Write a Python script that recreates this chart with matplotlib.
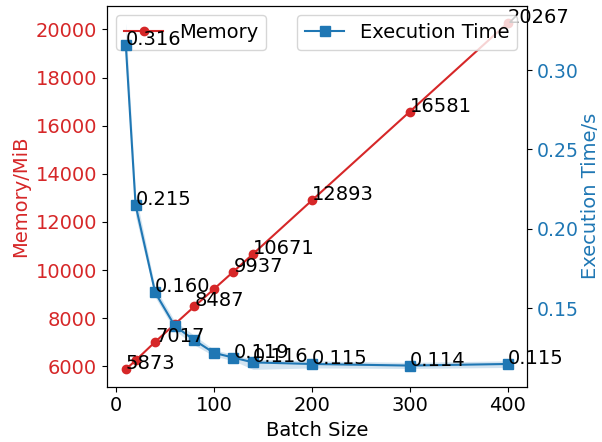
import matplotlib
matplotlib.use("Agg")
import matplotlib.pyplot as plt

batch_sizes = [10, 20, 40, 60, 80, 100, 120, 140, 200, 300, 400]
memory_mib = [5873, 6245, 7017, 7750, 8487, 9210, 9937, 10671, 12893, 16581, 20267]
exec_time = [0.316, 0.215, 0.160, 0.139, 0.130, 0.122, 0.119, 0.116, 0.115, 0.114, 0.115]
exec_time_lo = [0.303, 0.208, 0.157, 0.136, 0.127, 0.120, 0.117, 0.1116, 0.1125, 0.1122, 0.1128]
exec_time_hi = [0.3296, 0.222, 0.163, 0.142, 0.133, 0.124, 0.121, 0.118, 0.117, 0.116, 0.117]

mem_label_x = [10, 40, 80, 120, 140, 200, 300, 400]
time_label_x = [10, 20, 40, 120, 140, 200, 300, 400]

plt.rcParams['font.size'] = 14
red = '#d62728'
blue = '#1f77b4'

fig = plt.figure(figsize=(6.02, 4.42), dpi=100)
ax1 = fig.add_axes([106.7 / 602, (442 - 386.7) / 442, 420 / 602, 381 / 442])
ax1.plot(batch_sizes, memory_mib, color=red, marker='o', markersize=6, lw=1.5, label='Memory')
ax1.set_xlabel('Batch Size')
ax1.set_ylabel('Memory/MiB', color=red)
ax1.tick_params(axis='y', labelcolor=red)
ax1.legend(loc='upper left')

ax2 = ax1.twinx()
ax2.fill_between(batch_sizes, exec_time_lo, exec_time_hi, color=blue, alpha=0.2, lw=0)
ax2.plot(batch_sizes, exec_time, color=blue, marker='s', markersize=6.5, lw=1.5, label='Execution Time')
ax2.set_ylabel('Execution Time/s', color=blue, labelpad=1.5)
ax2.tick_params(axis='y', labelcolor=blue, labelsize=13.6)
ax2.legend(loc='upper right')

for x, m in zip(batch_sizes, memory_mib):
    if x in mem_label_x:
        ax2.text(x, m, f'{m}', transform=ax1.transData)
for x, t in zip(batch_sizes, exec_time):
    if x in time_label_x:
        ax2.text(x, t, f'{t:.3f}')

fig.savefig('out.png', dpi=100)
